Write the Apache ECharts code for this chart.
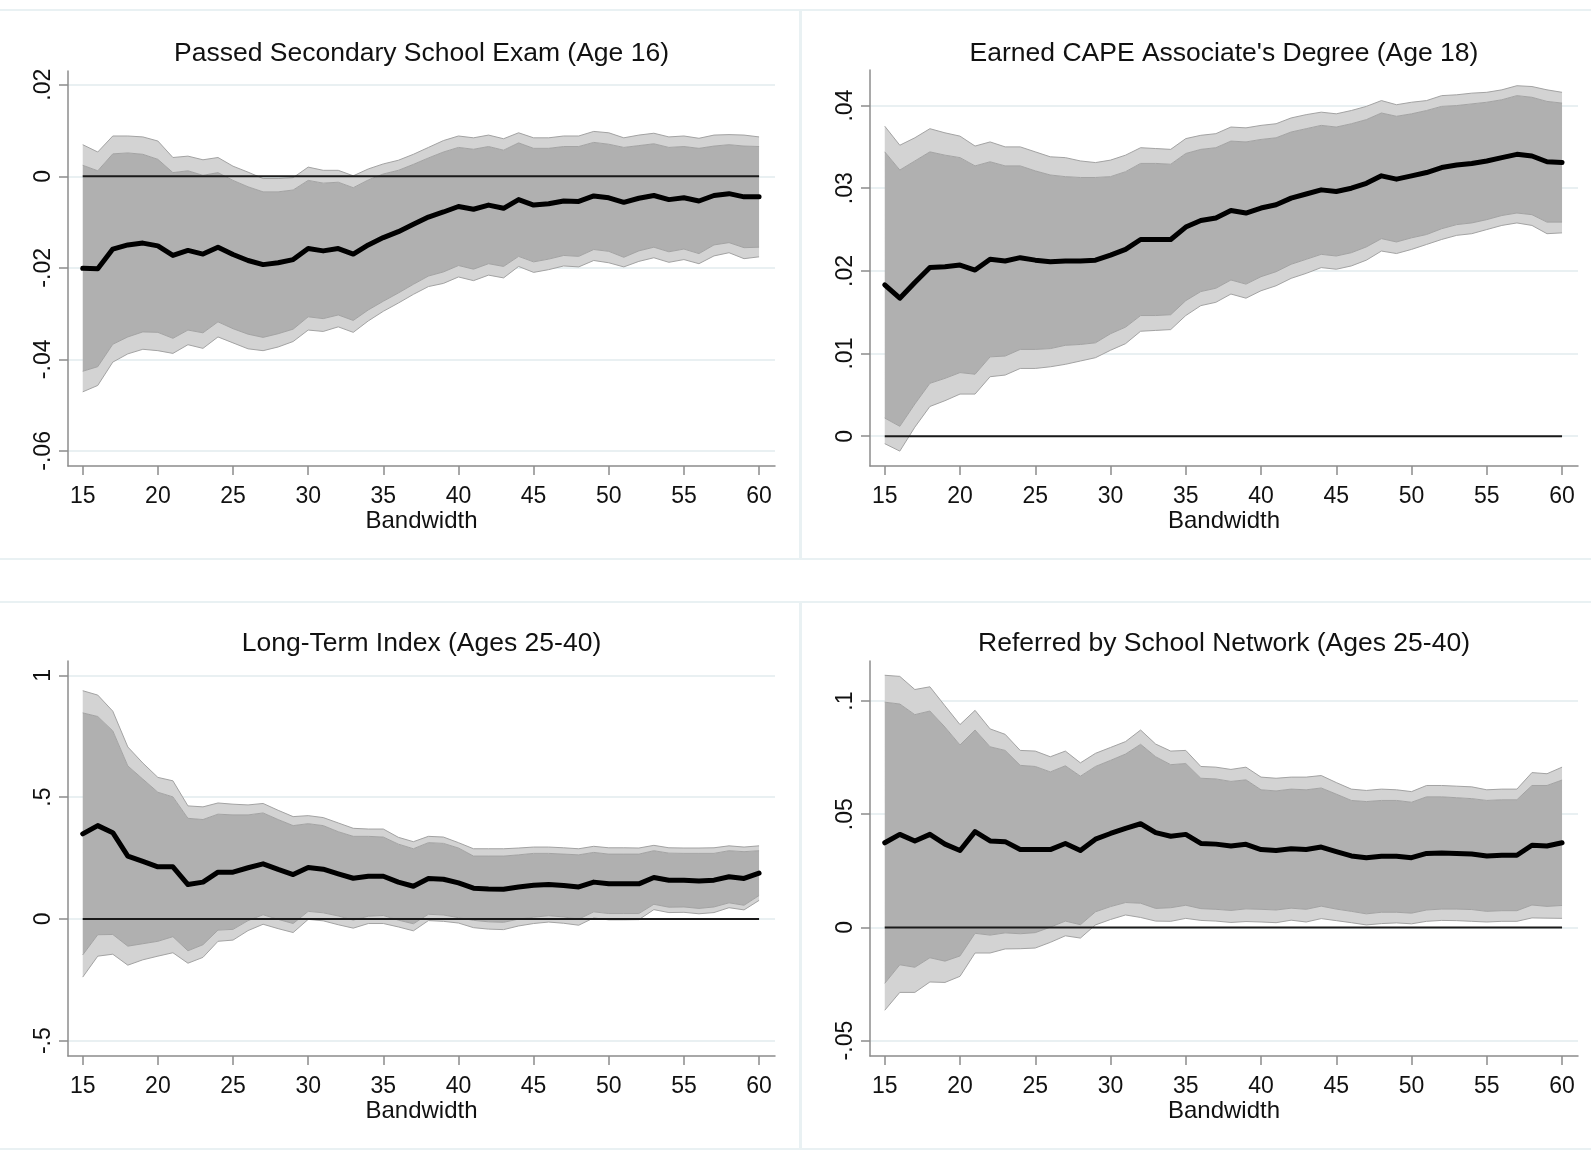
<!DOCTYPE html>
<html>
<head>
<meta charset="utf-8">
<script src="https://cdn.jsdelivr.net/npm/echarts@6/dist/echarts.min.js"></script>
<style>
html,body{margin:0;padding:0;background:#fff;}
#chart{width:1591px;height:1151px;}
</style>
</head>
<body>
<div id="chart"></div>
<script>
// ---------- DATA ----------
const bandwidth = [15,16,17,18,19,20,21,22,23,24,25,26,27,28,29,30,31,32,33,34,35,36,37,38,39,40,41,42,43,44,45,46,47,48,49,50,51,52,53,54,55,56,57,58,59,60];
const xTicks = [15,20,25,30,35,40,45,50,55,60];
const xTitle = "Bandwidth";

// Panel 1: Passed Secondary School Exam (Age 16)
const title1 = "Passed Secondary School Exam (Age 16)";
const est1 = [-0.0201,-0.0202,-0.0159,-0.0150,-0.0146,-0.0152,-0.0173,-0.0162,-0.0170,-0.0155,-0.0171,-0.0184,-0.0193,-0.0189,-0.0182,-0.0158,-0.0163,-0.0158,-0.0170,-0.0150,-0.0134,-0.0121,-0.0105,-0.0089,-0.0078,-0.0066,-0.0072,-0.0063,-0.0070,-0.0051,-0.0063,-0.0060,-0.0054,-0.0055,-0.0043,-0.0047,-0.0057,-0.0048,-0.0042,-0.0051,-0.0047,-0.0054,-0.0042,-0.0038,-0.0045,-0.0045];
const hi95_1 = [0.0069,0.0053,0.0088,0.0088,0.0086,0.0077,0.0041,0.0044,0.0036,0.0041,0.0022,0.0009,-0.0005,-0.0005,-0.0003,0.0020,0.0013,0.0013,0.0001,0.0016,0.0027,0.0035,0.0048,0.0063,0.0078,0.0088,0.0084,0.0090,0.0082,0.0095,0.0084,0.0084,0.0088,0.0088,0.0098,0.0095,0.0084,0.0090,0.0094,0.0086,0.0088,0.0083,0.0090,0.0091,0.0090,0.0086];
const hi90_1 = [0.0024,0.0012,0.0049,0.0051,0.0048,0.0037,0.0008,0.0012,0.0002,0.0008,-0.0009,-0.0023,-0.0034,-0.0034,-0.0030,-0.0009,-0.0015,-0.0013,-0.0025,-0.0008,0.0005,0.0013,0.0026,0.0040,0.0053,0.0063,0.0059,0.0065,0.0057,0.0073,0.0061,0.0061,0.0065,0.0065,0.0074,0.0070,0.0063,0.0067,0.0071,0.0063,0.0065,0.0061,0.0066,0.0069,0.0066,0.0065];
const lo90_1 = [-0.0426,-0.0416,-0.0367,-0.0351,-0.0340,-0.0341,-0.0354,-0.0336,-0.0342,-0.0318,-0.0333,-0.0345,-0.0352,-0.0344,-0.0334,-0.0307,-0.0311,-0.0303,-0.0315,-0.0292,-0.0273,-0.0255,-0.0236,-0.0218,-0.0209,-0.0195,-0.0203,-0.0191,-0.0197,-0.0175,-0.0187,-0.0181,-0.0173,-0.0175,-0.0160,-0.0164,-0.0177,-0.0163,-0.0155,-0.0165,-0.0159,-0.0169,-0.0150,-0.0145,-0.0156,-0.0155];
const lo95_1 = [-0.0471,-0.0457,-0.0406,-0.0388,-0.0378,-0.0381,-0.0387,-0.0368,-0.0376,-0.0351,-0.0364,-0.0377,-0.0381,-0.0373,-0.0361,-0.0336,-0.0339,-0.0329,-0.0341,-0.0316,-0.0295,-0.0277,-0.0258,-0.0241,-0.0234,-0.0220,-0.0228,-0.0216,-0.0222,-0.0197,-0.0210,-0.0204,-0.0196,-0.0198,-0.0184,-0.0189,-0.0198,-0.0186,-0.0178,-0.0188,-0.0182,-0.0191,-0.0174,-0.0167,-0.0180,-0.0176];
const yTicks1 = [-0.06,-0.04,-0.02,0,0.02];
const yLabels1 = ["-.06","-.04","-.02","0",".02"];

// Panel 2: Earned CAPE Associate's Degree (Age 18)
const title2 = "Earned CAPE Associate's Degree (Age 18)";
const est2 = [0.0183,0.0167,0.0186,0.0204,0.0205,0.0207,0.0201,0.0214,0.0212,0.0216,0.0213,0.0211,0.0212,0.0212,0.0213,0.0219,0.0226,0.0238,0.0238,0.0238,0.0253,0.0261,0.0264,0.0273,0.0270,0.0276,0.0280,0.0288,0.0293,0.0298,0.0296,0.0300,0.0306,0.0315,0.0311,0.0315,0.0319,0.0325,0.0328,0.0330,0.0333,0.0337,0.0341,0.0339,0.0332,0.0331];
const hi95_2 = [0.0375,0.0352,0.0361,0.0372,0.0367,0.0363,0.0351,0.0356,0.0350,0.0350,0.0344,0.0338,0.0337,0.0333,0.0331,0.0334,0.0340,0.0349,0.0348,0.0347,0.0360,0.0364,0.0366,0.0374,0.0373,0.0376,0.0378,0.0385,0.0389,0.0392,0.0390,0.0394,0.0399,0.0406,0.0401,0.0404,0.0406,0.0412,0.0413,0.0415,0.0416,0.0419,0.0424,0.0423,0.0419,0.0416];
const hi90_2 = [0.0344,0.0322,0.0333,0.0344,0.0340,0.0337,0.0327,0.0332,0.0327,0.0327,0.0321,0.0316,0.0314,0.0313,0.0313,0.0314,0.0320,0.0330,0.0330,0.0329,0.0342,0.0347,0.0349,0.0357,0.0356,0.0359,0.0361,0.0368,0.0372,0.0376,0.0374,0.0378,0.0383,0.0391,0.0387,0.0390,0.0394,0.0399,0.0400,0.0402,0.0404,0.0407,0.0412,0.0410,0.0405,0.0403];
const lo90_2 = [0.0022,0.0012,0.0039,0.0064,0.0070,0.0077,0.0075,0.0096,0.0097,0.0105,0.0105,0.0106,0.0110,0.0111,0.0113,0.0124,0.0132,0.0146,0.0146,0.0147,0.0164,0.0175,0.0179,0.0189,0.0184,0.0193,0.0199,0.0208,0.0214,0.0220,0.0218,0.0222,0.0229,0.0239,0.0235,0.0240,0.0244,0.0251,0.0256,0.0258,0.0262,0.0267,0.0270,0.0268,0.0259,0.0259];
const lo95_2 = [-0.0009,-0.0018,0.0011,0.0036,0.0043,0.0051,0.0051,0.0072,0.0074,0.0082,0.0082,0.0084,0.0087,0.0091,0.0095,0.0104,0.0112,0.0127,0.0128,0.0129,0.0146,0.0158,0.0162,0.0172,0.0167,0.0176,0.0182,0.0191,0.0197,0.0204,0.0202,0.0206,0.0213,0.0224,0.0221,0.0226,0.0232,0.0238,0.0243,0.0245,0.0250,0.0255,0.0258,0.0255,0.0245,0.0246];
const yTicks2 = [0,0.01,0.02,0.03,0.04];
const yLabels2 = ["0",".01",".02",".03",".04"];

// Panel 3: Long-Term Index (Ages 25-40)
const title3 = "Long-Term Index (Ages 25-40)";
const est3 = [0.349,0.383,0.354,0.258,0.236,0.214,0.214,0.141,0.151,0.192,0.192,0.210,0.226,0.203,0.182,0.211,0.204,0.185,0.167,0.175,0.175,0.151,0.134,0.166,0.163,0.148,0.126,0.123,0.122,0.131,0.138,0.141,0.137,0.131,0.151,0.144,0.144,0.144,0.170,0.159,0.159,0.156,0.159,0.173,0.166,0.188];
const hi95_3 = [0.937,0.919,0.853,0.706,0.640,0.581,0.567,0.464,0.460,0.476,0.471,0.468,0.474,0.446,0.420,0.424,0.416,0.394,0.372,0.369,0.369,0.335,0.317,0.339,0.336,0.313,0.288,0.288,0.288,0.291,0.295,0.295,0.292,0.288,0.298,0.292,0.292,0.291,0.302,0.292,0.291,0.291,0.292,0.300,0.295,0.300];
const hi90_3 = [0.846,0.831,0.772,0.628,0.574,0.520,0.501,0.413,0.408,0.430,0.427,0.427,0.435,0.408,0.383,0.391,0.383,0.358,0.339,0.339,0.336,0.307,0.288,0.313,0.310,0.291,0.258,0.258,0.258,0.263,0.269,0.269,0.266,0.263,0.273,0.266,0.266,0.266,0.280,0.270,0.269,0.269,0.269,0.280,0.276,0.280];
const lo90_3 = [-0.148,-0.065,-0.064,-0.112,-0.102,-0.092,-0.073,-0.131,-0.106,-0.046,-0.043,-0.007,0.017,-0.002,-0.019,0.031,0.025,0.012,-0.005,0.011,0.014,-0.005,-0.020,0.019,0.016,0.005,-0.006,-0.012,-0.014,-0.001,0.007,0.013,0.008,-0.001,0.029,0.022,0.022,0.022,0.060,0.048,0.049,0.043,0.049,0.066,0.056,0.096];
const lo95_3 = [-0.239,-0.153,-0.145,-0.190,-0.168,-0.153,-0.139,-0.182,-0.158,-0.092,-0.087,-0.048,-0.022,-0.040,-0.056,-0.002,-0.008,-0.024,-0.038,-0.019,-0.019,-0.033,-0.049,-0.007,-0.010,-0.017,-0.036,-0.042,-0.044,-0.029,-0.019,-0.013,-0.018,-0.026,0.004,-0.004,-0.004,-0.003,0.038,0.026,0.027,0.021,0.026,0.046,0.037,0.076];
const yTicks3 = [-0.5,0,0.5,1];
const yLabels3 = ["-.5","0",".5","1"];

// Panel 4: Referred by School Network (Ages 25-40)
const title4 = "Referred by School Network (Ages 25-40)";
const est4 = [0.0374,0.0411,0.0382,0.0411,0.0368,0.0340,0.0423,0.0382,0.0379,0.0344,0.0344,0.0344,0.0371,0.0340,0.0390,0.0415,0.0438,0.0458,0.0419,0.0403,0.0411,0.0371,0.0368,0.0360,0.0367,0.0344,0.0340,0.0348,0.0344,0.0355,0.0335,0.0316,0.0308,0.0314,0.0314,0.0308,0.0327,0.0329,0.0327,0.0324,0.0316,0.0319,0.0319,0.0363,0.0360,0.0374];
const hi95_4 = [0.1114,0.1109,0.1051,0.1063,0.0979,0.0896,0.0959,0.0877,0.0853,0.0782,0.0779,0.0754,0.0779,0.0727,0.0769,0.0795,0.0821,0.0872,0.0810,0.0779,0.0782,0.0711,0.0708,0.0698,0.0708,0.0664,0.0659,0.0664,0.0664,0.0671,0.0640,0.0611,0.0605,0.0611,0.0608,0.0600,0.0627,0.0627,0.0624,0.0621,0.0608,0.0611,0.0611,0.0684,0.0679,0.0708];
const hi90_4 = [0.0995,0.0987,0.0940,0.0956,0.0885,0.0806,0.0872,0.0798,0.0782,0.0716,0.0711,0.0687,0.0714,0.0668,0.0711,0.0738,0.0766,0.0809,0.0754,0.0719,0.0724,0.0659,0.0656,0.0645,0.0652,0.0608,0.0603,0.0611,0.0608,0.0616,0.0589,0.0561,0.0556,0.0561,0.0561,0.0553,0.0577,0.0577,0.0573,0.0569,0.0561,0.0564,0.0564,0.0627,0.0627,0.0651];
const lo90_4 = [-0.0247,-0.0165,-0.0176,-0.0134,-0.0149,-0.0126,-0.0026,-0.0034,-0.0024,-0.0028,-0.0023,0.0001,0.0028,0.0012,0.0069,0.0092,0.0110,0.0107,0.0084,0.0087,0.0098,0.0083,0.0080,0.0075,0.0082,0.0080,0.0077,0.0085,0.0080,0.0094,0.0081,0.0071,0.0060,0.0067,0.0067,0.0063,0.0077,0.0081,0.0081,0.0079,0.0071,0.0074,0.0074,0.0099,0.0093,0.0097];
const lo95_4 = [-0.0366,-0.0287,-0.0287,-0.0241,-0.0243,-0.0216,-0.0113,-0.0113,-0.0095,-0.0094,-0.0091,-0.0066,-0.0037,-0.0047,0.0011,0.0035,0.0055,0.0044,0.0028,0.0027,0.0040,0.0031,0.0028,0.0022,0.0026,0.0024,0.0021,0.0032,0.0024,0.0039,0.0030,0.0021,0.0011,0.0017,0.0020,0.0016,0.0027,0.0031,0.0030,0.0027,0.0024,0.0027,0.0027,0.0042,0.0041,0.0040];
const yTicks4 = [-0.05,0,0.05,0.1];
const yLabels4 = ["-.05","0",".05",".1"];

const zeroLine = [0,0];            // reference line at y = 0
const zeroX = [15,60];             // drawn across the bandwidth range

// ---------- LAYOUT / STYLE ----------
const FONT = "'Liberation Sans', Arial, Helvetica, sans-serif";
const LIGHT = '#d3d3d3', DARK = '#b0b0b0', EDGE = '#a3a3a3';
const AXIS = '#8c8c8c', GRIDC = '#e9f0f2', TXT = '#111';

const panels = [
  {title:title1, est:est1, hi95:hi95_1, hi90:hi90_1, lo90:lo90_1, lo95:lo95_1, ticks:yTicks1, labels:yLabels1,
   grid:{left:68, top:71, width:707, height:395}, ymin:-0.0633, ymax:0.0230, titleTop:40},
  {title:title2, est:est2, hi95:hi95_2, hi90:hi90_2, lo90:lo90_2, lo95:lo95_2, ticks:yTicks2, labels:yLabels2,
   grid:{left:870, top:70, width:708, height:396}, ymin:-0.0036, ymax:0.0443, titleTop:40},
  {title:title3, est:est3, hi95:hi95_3, hi90:hi90_3, lo90:lo90_3, lo95:lo95_3, ticks:yTicks3, labels:yLabels3,
   grid:{left:68, top:661, width:707, height:395}, ymin:-0.563, ymax:1.059, titleTop:630},
  {title:title4, est:est4, hi95:hi95_4, hi90:hi90_4, lo90:lo90_4, lo95:lo95_4, ticks:yTicks4, labels:yLabels4,
   grid:{left:870, top:661, width:708, height:395}, ymin:-0.0568, ymax:0.1177, titleTop:630}
];

const grids = [], xAxes = [], yAxes = [], titles = [], series = [];
panels.forEach((p, i) => {
  grids.push(Object.assign({containLabel:false, outerBoundsMode:'none'}, p.grid));
  titles.push({
    text: p.title, left: p.grid.left + p.grid.width/2, top: p.titleTop, textAlign:'center', padding:0,
    textStyle:{fontFamily:FONT, fontSize:26.5, fontWeight:'normal', color:TXT}
  });
  xAxes.push({
    type:'value', gridIndex:i, min:14.02, max:61.06,
    name: xTitle, nameLocation:'middle', nameGap:43,
    nameTextStyle:{fontFamily:FONT, fontSize:24, color:TXT},
    axisLine:{show:true, onZero:false, lineStyle:{color:AXIS, width:1.5}},
    axisTick:{show:true, length:9, customValues:xTicks, lineStyle:{color:AXIS, width:1.5}},
    axisLabel:{show:true, customValues:xTicks, margin:19, fontFamily:FONT, fontSize:23, color:TXT},
    splitLine:{show:false}
  });
  const tk = p.ticks, lb = p.labels;
  yAxes.push({
    type:'value', gridIndex:i, min:p.ymin, max:p.ymax,
    axisLine:{show:true, onZero:false, lineStyle:{color:AXIS, width:1.5}},
    axisTick:{show:true, length:9, customValues:tk, lineStyle:{color:AXIS, width:1.5}},
    axisLabel:{show:true, customValues:tk, rotate:90, margin:13, fontFamily:FONT, fontSize:23, color:TXT,
      formatter:function(v){ for (let k=0;k<tk.length;k++){ if (Math.abs(tk[k]-v) < 1e-9) return lb[k]; } return ''; }},
    splitLine:{show:true, customValues:tk, lineStyle:{color:GRIDC, width:2}}
  });
  // Stacked band layers; columns are [value, bandwidth] so that the value column is the stacked one.
  const stackName = 'ci' + i;
  const base = bandwidth.map((x, k) => [p.lo95[k], x]);
  const d1 = bandwidth.map((x, k) => [p.lo90[k] - p.lo95[k], x]);
  const d2 = bandwidth.map((x, k) => [p.hi90[k] - p.lo90[k], x]);
  const d3 = bandwidth.map((x, k) => [p.hi95[k] - p.hi90[k], x]);
  const common = {type:'line', xAxisIndex:i, yAxisIndex:i, stack:stackName, stackStrategy:'all',
    encode:{x:1, y:0}, symbol:'none', silent:true, animation:false, z:2};
  series.push(Object.assign({}, common, {data:base, lineStyle:{color:EDGE, width:1}}));
  series.push(Object.assign({}, common, {data:d1, lineStyle:{color:EDGE, width:1}, areaStyle:{color:LIGHT, opacity:1}}));
  series.push(Object.assign({}, common, {data:d2, lineStyle:{color:EDGE, width:1}, areaStyle:{color:DARK, opacity:1}}));
  series.push(Object.assign({}, common, {data:d3, lineStyle:{color:EDGE, width:1}, areaStyle:{color:LIGHT, opacity:1}}));
  series.push({type:'line', xAxisIndex:i, yAxisIndex:i, symbol:'none', silent:true, animation:false, z:3,
    data: zeroX.map((x, k) => [x, zeroLine[k]]), lineStyle:{color:'#1a1a1a', width:2}});
  series.push({type:'line', xAxisIndex:i, yAxisIndex:i, symbol:'none', silent:true, animation:false, z:4,
    data: bandwidth.map((x, k) => [x, p.est[k]]), lineStyle:{color:'#000', width:5, cap:'round', join:'round'}});
});

const frame = {fill:'none', stroke:'#e9f1f3', lineWidth:2};
const chart = echarts.init(document.getElementById('chart'), null, {renderer:'canvas'});
chart.setOption({
  backgroundColor:'#ffffff',
  animation:false,
  textStyle:{fontFamily:FONT},
  title: titles,
  grid: grids,
  xAxis: xAxes,
  yAxis: yAxes,
  series: series,
  graphic: [
    {type:'rect', silent:true, z:-10, shape:{x:-2, y:10, width:802, height:549}, style:frame},
    {type:'rect', silent:true, z:-10, shape:{x:801, y:10, width:800, height:549}, style:frame},
    {type:'rect', silent:true, z:-10, shape:{x:-2, y:602, width:802, height:547}, style:frame},
    {type:'rect', silent:true, z:-10, shape:{x:801, y:602, width:800, height:547}, style:frame}
  ]
});
</script>
</body>
</html>
